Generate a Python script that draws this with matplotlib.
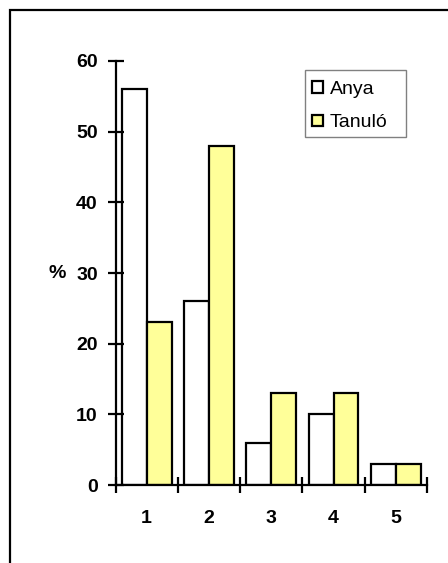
import matplotlib
matplotlib.use("Agg")
import matplotlib.pyplot as plt
import matplotlib.patches as patches
import numpy as np

categories = ["1", "2", "3", "4", "5"]
anya = [56, 26, 6, 10, 3]
tanulo = [23, 48, 13, 13, 3]
series_names = ["Anya", "Tanuló"]
y_ticks = [0, 10, 20, 30, 40, 50, 60]

plt.rcParams['font.family'] = ['Liberation Sans', 'DejaVu Sans']

W, H = 448, 563
fig = plt.figure(figsize=(W / 100, H / 100), dpi=100)

# axes placed in pixel terms
left, right, top, bottom = 115.5, 427, 61, 485
ax = fig.add_axes([left / W, (H - bottom) / H, (right - left) / W, (bottom - top) / H])

x = np.arange(1, len(categories) + 1)
bw = 0.4
ax.bar(x - bw / 2, anya, bw, color="white", edgecolor="black", linewidth=1.6, label=series_names[0])
ax.bar(x + bw / 2, tanulo, bw, color="#FFFF99", edgecolor="black", linewidth=1.6, label=series_names[1])

ax.set_xlim(0.5, len(categories) + 0.5)
ax.set_ylim(0, 60)

for s in ["top", "right"]:
    ax.spines[s].set_visible(False)
for s in ["left", "bottom"]:
    ax.spines[s].set_linewidth(1.6)

ax.set_yticks(y_ticks)
ax.set_yticklabels([str(v) for v in y_ticks], fontsize=14, fontweight="bold")
ax.tick_params(axis="y", direction="inout", length=11.5, width=1.6, pad=7)

ax.set_xticks(x)
ax.set_xticklabels(categories, fontsize=14, fontweight="bold")
ax.set_xticks(np.arange(0.5, len(categories) + 1, 1.0), minor=True)
ax.tick_params(axis="x", which="major", length=0, pad=18)
ax.tick_params(axis="x", which="minor", direction="inout", length=11, width=1.6)

ax.set_ylabel("%", rotation=0, fontsize=14, fontweight="bold")
ax.yaxis.set_label_coords(-0.186, 0.5)
ax.yaxis.label.set_va("center")
ax.yaxis.label.set_ha("center")

# legend without its own frame, box drawn separately (Excel style wide box)
leg = ax.legend(loc="upper left", bbox_to_anchor=(0.631, 0.953), fontsize=14,
                frameon=False, handlelength=0.55, handleheight=0.55,
                handletextpad=0.35, labelspacing=0.85, borderpad=0, borderaxespad=0)
for h in leg.legend_handles:
    h.set_linewidth(1.6)
lx0, lx1, ly0, ly1 = 305, 406, 70, 137
ax.add_patch(patches.Rectangle(((lx0 - left) / (right - left), (bottom - ly1) / (bottom - top)),
                               (lx1 - lx0) / (right - left), (ly1 - ly0) / (bottom - top),
                               transform=ax.transAxes, fill=False, edgecolor="#808080",
                               linewidth=1.0, clip_on=False))

# outer frame
fig.patches.append(patches.Rectangle((9.5 / W, -0.1), 1.2, (H - 9.5) / H + 0.1,
                                     transform=fig.transFigure, fill=False,
                                     edgecolor="black", linewidth=1.6))

fig.savefig("out.png", dpi=100)
